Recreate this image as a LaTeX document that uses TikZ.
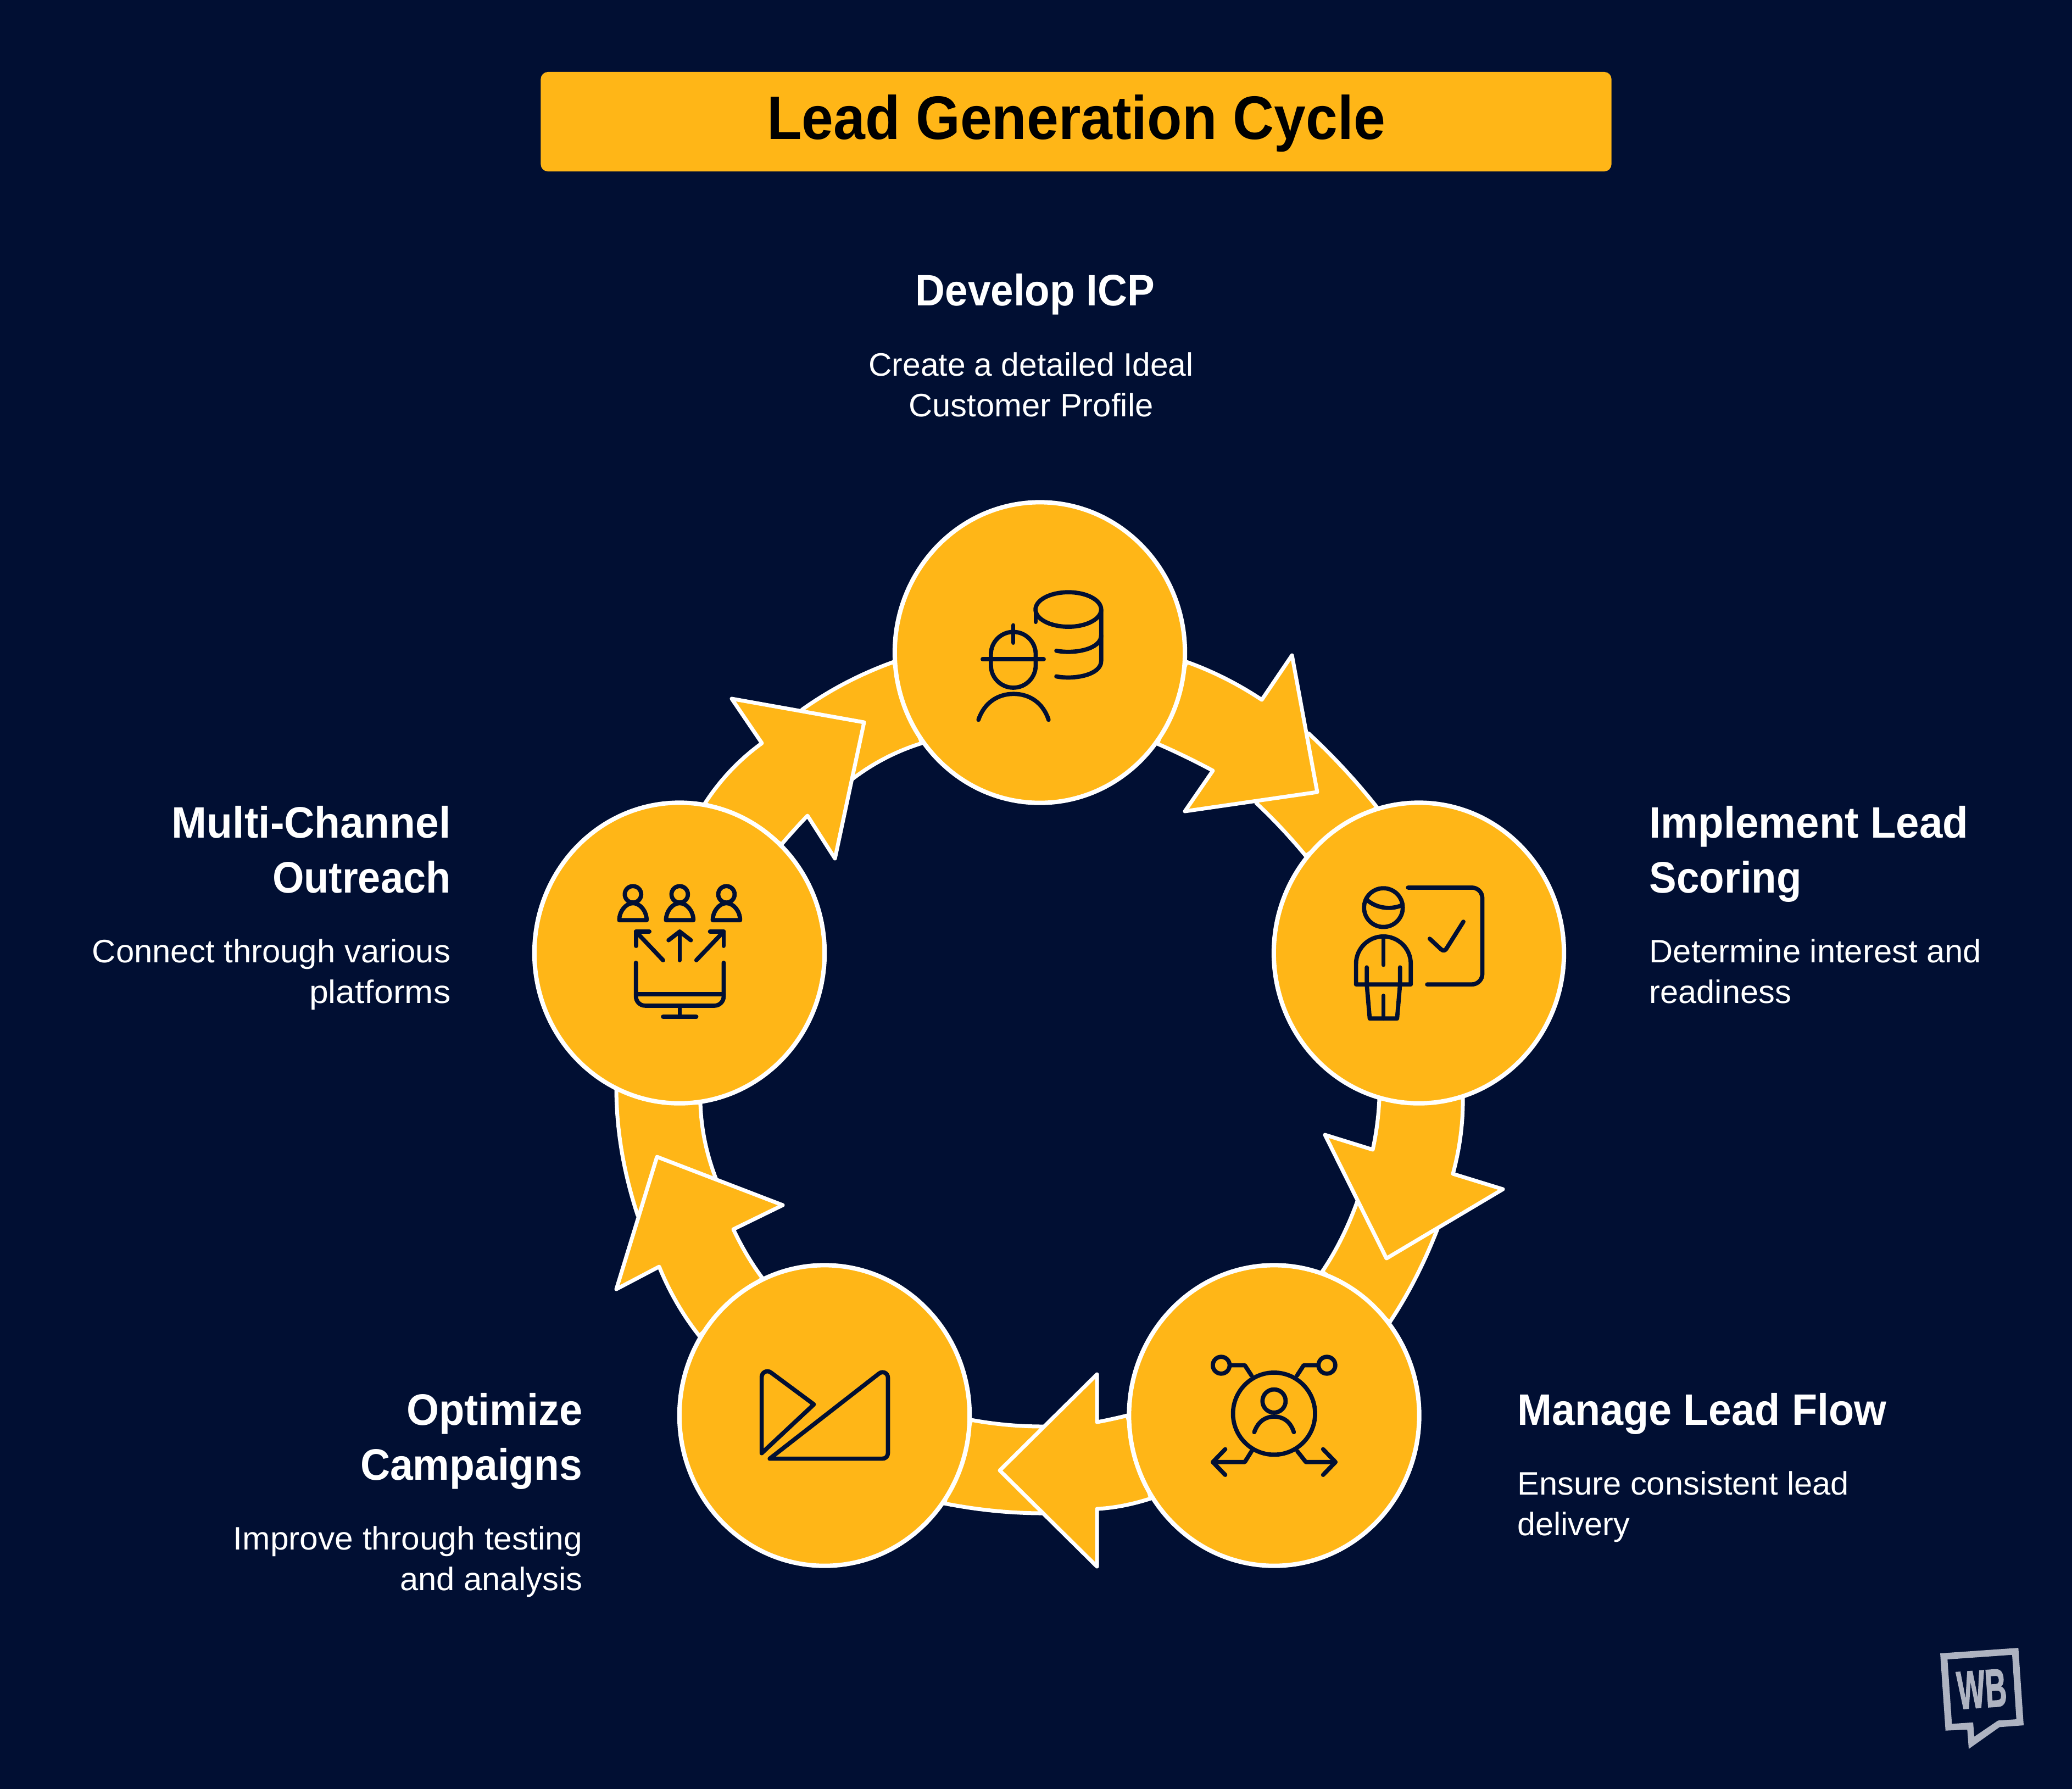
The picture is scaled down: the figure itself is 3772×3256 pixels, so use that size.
\documentclass[tikz,border=0pt]{standalone}
\usepackage{fontspec}
\usepackage{graphicx}
\usetikzlibrary{calc,shapes.geometric}
\setmainfont{Liberation Sans}
\newfontfamily\wbfont[BoldFeatures={FakeBold=2}]{Liberation Sans}
\definecolor{navy}{HTML}{010F33}
\definecolor{amber}{HTML}{FFB617}
\definecolor{logogrey}{HTML}{AEB3C1}
\newcommand\heading[2]{\rule{0pt}{0.6cm}\resizebox{#1cm}{\height}{#2}}
\newcommand\descline[2]{\rule{0pt}{0.45cm}\resizebox{#1cm}{\height}{#2}}
% quadratic curve from #1 with control point #2 to #3
\newcommand\qto[3]{.. controls ($(#1)!0.6667!(#2)$) and ($(#3)!0.6667!(#2)$) .. (#3)}
\tikzset{
  arrowpiece/.style={fill=amber,draw=white,line width=0.07cm,line join=round},
  stagecircle/.style={ellipse,fill=amber,draw=white,line width=0.08cm,minimum width=5.28cm,minimum height=5.47cm,inner sep=0pt},
  iconline/.style={draw=navy,line width=0.077cm,line cap=round,line join=round},
  headtext/.style={inner sep=0pt,text=white,font=\bfseries\fontsize{22.8}{28.45}\selectfont},
  desctext/.style={inner sep=0pt,text=white,font=\fontsize{16.8}{21}\selectfont},
  iconframe/.style={x=0.0038265cm,y=-0.0038265cm}
}
\begin{document}
\begin{tikzpicture}[x=0.01cm,y=-0.01cm]
\useasboundingbox (0,0) rectangle (3772,3256);
\fill[navy] (-10,-10) rectangle (3782,3266);

% title
\node[fill=amber,rounded corners=0.13cm,minimum width=19.48cm,minimum height=1.81cm,inner sep=0pt,text=black,font=\bfseries\fontsize{31.8}{38}\selectfont] (title) at (1959,221.5) {\rule[-0.28cm]{0pt}{1.20cm}\resizebox{11.25cm}{\height}{Lead Generation Cycle}\hspace{0.16cm}};

% bands running behind the heads
\path[arrowpiece] (2382,1335) \qto{2382,1335}{2449.5,1397.5}{2507,1470} -- (2377,1558) \qto{2377,1558}{2334,1506}{2287,1462} -- cycle;
\path[arrowpiece] (2617,2237) \qto{2617,2237}{2580,2332}{2530,2407} -- (2407,2315) \qto{2407,2315}{2445,2259}{2471,2187} -- cycle;
\path[arrowpiece] (1900,2597) \qto{1900,2597}{1832,2597}{1768,2585} -- (1719,2737) \qto{1719,2737}{1810,2755}{1900,2755} -- cycle;
\path[arrowpiece] (1303,2145) \qto{1303,2145}{1277,2077}{1275,2008} -- (1122,1983) \qto{1122,1983}{1122.5,2096}{1161,2213} -- cycle;
\path[arrowpiece] (1460,1292) \qto{1460,1292}{1536.5,1237.5}{1627,1205} -- (1678,1353) \qto{1678,1353}{1609,1374.5}{1552,1418} -- cycle;

% arrows with heads
\path[arrowpiece] (2160,1205) \qto{2160,1205}{2231.5,1230.5}{2297,1274} -- (2352,1193) -- (2398,1442) -- (2157,1477) -- (2208,1403) \qto{2208,1403}{2156.5,1375.5}{2107,1354} -- cycle;
\path[arrowpiece] (2663,1998) \qto{2663,1998}{2664,2066.5}{2645,2137} -- (2736,2165) -- (2524,2291) -- (2412,2066) -- (2499,2093) \qto{2499,2093}{2509,2047.5}{2511,2000} -- cycle;
\path[arrowpiece] (2052,2577) \qto{2052,2577}{2024,2584}{1997,2589} -- (1997,2502) -- (1820,2677) -- (1997,2852) -- (1997,2747) \qto{1997,2747}{2044,2744.5}{2095,2728} -- cycle;
\path[arrowpiece] (1388,2327) \qto{1388,2327}{1358.5,2287.5}{1335,2238} -- (1425,2194) -- (1196,2106) -- (1122,2347) -- (1200,2306) \qto{1200,2306}{1228,2375}{1273,2432} -- cycle;
\path[arrowpiece] (1283,1463) \qto{1283,1463}{1325,1398}{1387,1353} -- (1332,1272) -- (1573,1315) -- (1520,1563) -- (1470,1485) \qto{1470,1485}{1446,1510}{1423,1537} -- cycle;

% stage circles
\node[stagecircle] (c1) at (1893,1188) {};
\node[stagecircle] (c2) at (2583,1735) {};
\node[stagecircle] (c3) at (2319.5,2577) {};
\node[stagecircle] (c4) at (1501,2577) {};
\node[stagecircle] (c5) at (1237,1735) {};

% icon 1
\begin{scope}[shift={(1600,900)},iconframe,iconline]
\draw (532,760) arc[start angle=180,end angle=360,radius=106.5] -- (745,812) arc[start angle=0,end angle=180,radius=106.5] -- cycle;
\draw (638,622) -- (638,705);
\draw (493,783) -- (783,783);
\draw (473,1071) .. controls (500,990) and (565,948) .. (640,948) .. controls (715,948) and (780,990) .. (806,1071);
\draw (900,547) ellipse[x radius=156,y radius=82];
\draw (745,547) -- (745,606);
\draw (1056,547) -- (1056,792) .. controls (1056,857) and (930,882) .. (843,865);
\draw (1056,670) .. controls (1056,735) and (930,760) .. (843,743);
\end{scope}

% icon 2
\begin{scope}[shift={(2300,1450)},iconframe,iconline]
\draw (570,528) circle[radius=92];
\draw (490,490) .. controls (535,530) and (600,540) .. (655,518);
\draw (440,893) -- (440,795) arc[start angle=180,end angle=360,radius=130] -- (700,893) -- cycle;
\draw (570,665) -- (570,800);
\draw (491,812) -- (491,893) -- (505,1055) -- (635,1055) -- (649,893) -- (649,812);
\draw (570,947) -- (570,1055);
\draw (687,433) -- (990,433) arc[start angle=-90,end angle=0,radius=50] -- (1040,843) arc[start angle=0,end angle=90,radius=50] -- (778,893);
\draw (790,676) -- (845,727) .. controls (855,735) and (862,732) .. (868,725) -- (950,595);
\end{scope}

% icon 3
\begin{scope}[shift={(2040,2300)},iconframe,iconline]
\draw (729,714) circle[radius=195];
\draw (729,654) circle[radius=55];
\draw (635,802) .. controls (655,745) and (695,728) .. (729,728) .. controls (765,728) and (805,745) .. (823,802);
\draw (478,484) circle[radius=40];
\draw (980,484) circle[radius=40];
\draw (520,484) -- (590,484) -- (622,533);
\draw (938,484) -- (870,484) -- (838,533);
\draw (622,893) -- (590,944) -- (440,944);
\draw (840,893) -- (880,944) -- (1020,944);
\draw (497,883) -- (438,944) -- (497,1005);
\draw (962,883) -- (1021,944) -- (962,1005);
\end{scope}

% icon 4
\begin{scope}[shift={(1200,2300)},iconframe,iconline]
\draw (487,902) -- (487,540) .. controls (487,518) and (512,505) .. (530,518) -- (735,670) -- cycle;
\draw (525,928) -- (1045,523) .. controls (1062,510) and (1087,520) .. (1087,545) -- (1087,900) .. controls (1087,918) and (1075,928) .. (1060,928) -- cycle;
\end{scope}

% icon 5
\begin{scope}[shift={(940,1450)},iconframe,iconline]
\foreach \cx in {554,776,998} {
  \draw (\cx,465) circle[radius=39];
  \draw (\cx-65,588) .. controls (\cx-65,545) and (\cx-34,507) .. (\cx,507) .. controls (\cx+34,507) and (\cx+65,545) .. (\cx+65,588) -- cycle;
}
\draw (697,778) -- (568,642);
\draw (568,710) -- (568,642) -- (632,642);
\draw (776,778) -- (776,642);
\draw (723,683) -- (776,642) -- (829,683);
\draw (855,778) -- (985,642);
\draw (920,642) -- (985,642) -- (985,710);
\draw (568,790) -- (568,950) arc[start angle=180,end angle=90,radius=44] -- (941,994) arc[start angle=90,end angle=0,radius=44] -- (985,790);
\draw (568,940) -- (985,940);
\draw (776,994) -- (776,1047);
\draw (697,1047) -- (855,1047);
\end{scope}

% texts: y = first baseline minus the line strut
\node[headtext,anchor=north] (h1) at (1884.5,495.5) {\heading{4.35}{Develop ICP}};
\node[desctext,anchor=north,align=center] (d1) at (1877,639) {\descline{5.91}{Create a detailed Ideal}\\\descline{4.45}{Customer Profile}};

\node[headtext,anchor=north west,align=left] (h2) at (3002,1465) {\heading{5.80}{Implement Lead}\\\heading{2.77}{Scoring}};
\node[desctext,anchor=north west,align=left] (d2) at (3002,1707) {\descline{6.04}{Determine interest and}\\\descline{2.58}{readiness}};

\node[headtext,anchor=north west] (h3) at (2762,2534) {\heading{6.71}{Manage Lead Flow}};
\node[desctext,anchor=north west,align=left] (d3) at (2762,2676) {\descline{6.03}{Ensure consistent lead}\\\descline{2.04}{delivery}};

\node[headtext,anchor=north east,align=right] (h4) at (1061,2534) {\heading{3.20}{Optimize}\\\heading{4.04}{Campaigns}};
\node[desctext,anchor=north east,align=right] (d4) at (1061,2776) {\descline{6.35}{Improve through testing}\\\descline{3.32}{and analysis}};

\node[headtext,anchor=north east,align=right] (h5) at (821,1465) {\heading{5.07}{Multi-Channel}\\\heading{3.24}{Outreach}};
\node[desctext,anchor=north east,align=right] (d5) at (821,1707) {\descline{6.52}{Connect through various}\\\descline{2.57}{platforms}};

% logo
\fill[logogrey,even odd rule] (3532,3010) -- (3674.3,3000) -- (3684,3141) -- (3640,3144.3) -- (3584,3184) -- (3581.3,3148.7) -- (3541.7,3150.7) -- cycle
 (3545.3,3021) -- (3663,3012.7) -- (3670.7,3130) -- (3637.3,3132.3) -- (3594,3161.7) -- (3592,3135.7) -- (3553.3,3138.3) -- cycle;
\node[inner sep=0pt,text=logogrey,rotate=4,font=\wbfont\bfseries] (wb) at (3607.7,3075) {\resizebox{0.90cm}{0.67cm}{WB}};
\end{tikzpicture}
\end{document}
